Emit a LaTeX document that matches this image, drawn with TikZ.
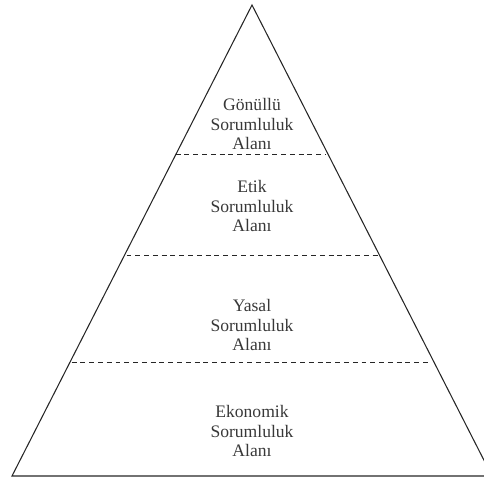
\documentclass[tikz,border=0pt]{standalone}
\usepackage{fontspec}
\setmainfont{Liberation Serif}
\usetikzlibrary{calc}

\tikzset{
  katman/.style={align=center,text=black!78,font=\fontsize{10}{11.3}\selectfont},
  ayrac/.style={dash pattern=on 2.8pt off 2.2pt,line width=0.6pt,black!85}
}

\begin{document}
\begin{tikzpicture}
\useasboundingbox (0,0) rectangle (9.68,9.6);
\coordinate (top) at (5.04,9.5);
\coordinate (bl) at (0.24,0.08);
\coordinate (br) at (9.84,0.08);
\draw[line width=0.6pt,black!85] (top) -- (bl) -- (br) -- cycle;

% ayrac cizgileri (ayni yukseklikte iki kenar arasi)
\coordinate (l1) at ($(top)!0.318!(bl)$);
\coordinate (r1) at ($(top)!0.318!(br)+(-0.06,0)$);
\coordinate (l2) at ($(top)!0.531!(bl)+(0.04,0)$);
\coordinate (r2) at ($(top)!0.531!(br)$);
\coordinate (l3) at ($(top)!0.760!(bl)+(0.04,0)$);
\coordinate (r3) at ($(top)!0.760!(br)+(-0.08,0)$);
\draw[ayrac] (l1) -- (r1);
\draw[ayrac] (l2) -- (r2);
\draw[ayrac] (l3) -- (r3);

\node[katman] (gonullu) at (5.04,7.12) {Gönüllü\\Sorumluluk\\Alanı};
\node[katman] (etik) at (5.04,5.48) {Etik\\Sorumluluk\\Alanı};
\node[katman] (yasal) at (5.04,3.1) {Yasal\\Sorumluluk\\Alanı};
\node[katman] (ekonomik) at (5.04,0.98) {Ekonomik\\Sorumluluk\\Alanı};

\end{tikzpicture}
\end{document}
